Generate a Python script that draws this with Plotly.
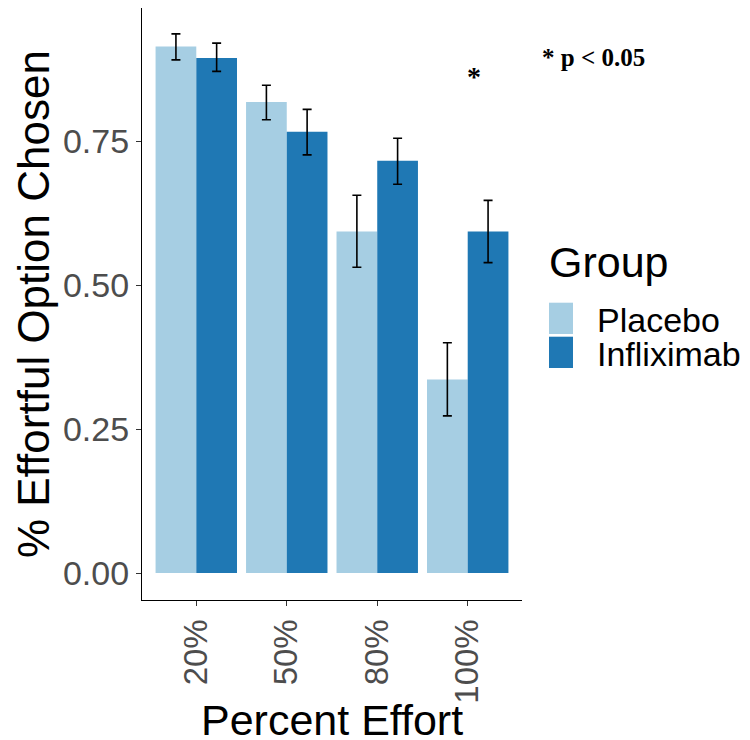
import plotly.graph_objects as go

# ---- data ----
categories = ["20%", "50%", "80%", "100%"]
groups = ["Placebo", "Infliximab"]
placebo_mean = [0.914, 0.818, 0.593, 0.336]
placebo_err_up = [0.022, 0.029, 0.063, 0.064]
placebo_err_down = [0.023, 0.031, 0.062, 0.063]
infliximab_mean = [0.894, 0.766, 0.716, 0.593]
infliximab_err_up = [0.026, 0.039, 0.039, 0.054]
infliximab_err_down = [0.023, 0.040, 0.041, 0.054]
y_ticks = [0.0, 0.25, 0.50, 0.75]

colors = {"Placebo": "#A6CEE3", "Infliximab": "#1F78B4"}

# ---- layout geometry (reference pixels; page adds an 8px body margin) ----
OFF = 8
W, H = 750 - OFF, 740 - OFF
L, R, T, B = 142 - OFF, 522 - OFF, 8 - OFF, 600 - OFF


def px(x):
    return (x - OFF - L) / (R - L)


def py(y):
    return (B - (y - OFF)) / (B - T)


FONT = "Liberation Sans, Arial, Helvetica, sans-serif"
SERIF = "Liberation Serif, Times New Roman, serif"

fig = go.Figure()
for name, mean, up, down in [
    ("Placebo", placebo_mean, placebo_err_up, placebo_err_down),
    ("Infliximab", infliximab_mean, infliximab_err_up, infliximab_err_down),
]:
    fig.add_trace(go.Bar(
        name=name, x=categories, y=mean,
        marker=dict(color=colors[name], line=dict(width=0)),
        error_y=dict(type="data", array=up, arrayminus=down, symmetric=False,
                     color="black", thickness=1.6, width=4.5),
        showlegend=False,
    ))

fig.update_layout(
    width=W, height=H,
    margin=dict(l=L, r=W - R, t=T, b=H - B, pad=0),
    paper_bgcolor="white", plot_bgcolor="white",
    barmode="group", bargap=0.1, bargroupgap=0,
    font=dict(family=FONT),
    xaxis=dict(type="category", range=[-0.6, 3.6], showgrid=False, zeroline=False,
               showline=True, linecolor="black", linewidth=1.2,
               ticks="outside", ticklen=5, tickwidth=1.2, tickcolor="#333333",
               tickangle=-90, tickfont=dict(size=33, color="#4D4D4D", family=FONT)),
    yaxis=dict(range=[-0.0467, 0.981], showgrid=False, zeroline=False,
               showline=True, linecolor="black", linewidth=1.2,
               ticks="outside", ticklen=5, tickwidth=1.2, tickcolor="#333333",
               tickvals=y_ticks, tickformat=".2f",
               tickfont=dict(size=34, color="#4D4D4D", family=FONT)),
)

ann = []
# axis titles
ann.append(dict(text="Percent Effort", x=0.5, y=py(720), xref="paper", yref="paper",
                showarrow=False, xanchor="center", yanchor="middle",
                font=dict(size=43, color="black", family=FONT)))
ann.append(dict(text="% Effortful Option Chosen", x=px(33), y=0.5, xref="paper", yref="paper",
                showarrow=False, xanchor="center", yanchor="middle", textangle=-90,
                font=dict(size=44, color="black", family=FONT)))
# significance
ann.append(dict(text="<b>*</b>", x=px(474), y=py(76), xref="paper", yref="paper",
                showarrow=False, xanchor="center", yanchor="middle",
                font=dict(size=28, color="black", family=SERIF)))
ann.append(dict(text="<b>* p &lt; 0.05</b>", x=px(540), y=py(57), xref="paper", yref="paper",
                showarrow=False, xanchor="left", yanchor="middle",
                font=dict(size=25, color="black", family=SERIF)))
# legend
ann.append(dict(text="Group", x=px(547), y=py(262), xref="paper", yref="paper",
                showarrow=False, xanchor="left", yanchor="middle",
                font=dict(size=43, color="black", family=FONT)))
shapes = []
key_rows = [(302.7, 334.0, 320), (336.7, 368.0, 354)]
for g, (y0, y1, ymid) in zip(groups, key_rows):
    shapes.append(dict(type="rect", xref="paper", yref="paper",
                       x0=px(549), x1=px(573), y0=py(y1), y1=py(y0),
                       fillcolor=colors[g], line=dict(width=0)))
    ann.append(dict(text=g, x=px(595), y=py(ymid), xref="paper", yref="paper",
                    showarrow=False, xanchor="left", yanchor="middle",
                    font=dict(size=34, color="black", family=FONT)))

fig.update_layout(annotations=ann, shapes=shapes)
fig.write_html("out.html")
